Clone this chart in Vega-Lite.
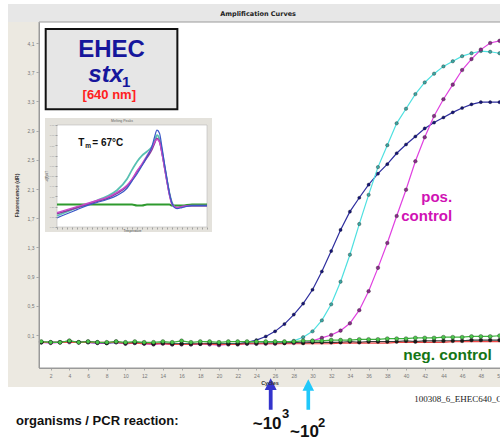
{
  "$schema": "https://vega.github.io/schema/vega-lite/v6.json",
  "width": 461,
  "height": 346,
  "autosize": {"type": "none"},
  "padding": {"left": 39, "top": 22, "right": 0, "bottom": 71},
  "background": "white",
  "config": {
    "view": {"stroke": null},
    "text": {"font": "Liberation Sans"},
    "axis": {"labelFont": "Liberation Sans", "titleFont": "Liberation Sans", "labelOverlap": false}
  },
  "datasets": {
    "amp": [
      {"c": 1, "blue": 0.00, "cyan": 0.00, "mag": 0.00, "green": 0.01, "red": 0.00, "black": 0.00},
      {"c": 2, "blue": 0.00, "cyan": 0.00, "mag": -0.01, "green": 0.00, "red": 0.00, "black": 0.00},
      {"c": 3, "blue": 0.00, "cyan": 0.00, "mag": 0.00, "green": 0.00, "red": 0.00, "black": 0.00},
      {"c": 4, "blue": 0.01, "cyan": 0.01, "mag": 0.00, "green": 0.02, "red": 0.00, "black": 0.02},
      {"c": 5, "blue": 0.00, "cyan": 0.00, "mag": 0.00, "green": 0.00, "red": 0.00, "black": 0.00},
      {"c": 6, "blue": 0.00, "cyan": 0.00, "mag": 0.00, "green": 0.01, "red": 0.00, "black": 0.01},
      {"c": 7, "blue": -0.01, "cyan": 0.00, "mag": -0.01, "green": 0.00, "red": 0.00, "black": 0.00},
      {"c": 8, "blue": -0.01, "cyan": -0.01, "mag": -0.01, "green": 0.00, "red": 0.00, "black": -0.01},
      {"c": 9, "blue": 0.00, "cyan": 0.00, "mag": 0.00, "green": 0.01, "red": 0.00, "black": 0.01},
      {"c": 10, "blue": -0.02, "cyan": -0.01, "mag": -0.02, "green": 0.00, "red": -0.01, "black": -0.01},
      {"c": 11, "blue": -0.01, "cyan": -0.01, "mag": -0.01, "green": 0.01, "red": -0.01, "black": 0.00},
      {"c": 12, "blue": -0.02, "cyan": -0.01, "mag": -0.02, "green": 0.00, "red": -0.02, "black": -0.01},
      {"c": 13, "blue": -0.02, "cyan": -0.02, "mag": -0.03, "green": 0.00, "red": -0.02, "black": -0.02},
      {"c": 14, "blue": -0.01, "cyan": -0.01, "mag": -0.02, "green": 0.01, "red": -0.02, "black": -0.01},
      {"c": 15, "blue": -0.03, "cyan": -0.02, "mag": -0.03, "green": 0.00, "red": -0.03, "black": -0.02},
      {"c": 16, "blue": -0.02, "cyan": -0.02, "mag": -0.03, "green": 0.02, "red": -0.03, "black": -0.02},
      {"c": 17, "blue": -0.03, "cyan": -0.02, "mag": -0.03, "green": 0.00, "red": -0.03, "black": -0.02},
      {"c": 18, "blue": -0.02, "cyan": -0.02, "mag": -0.02, "green": 0.01, "red": -0.02, "black": -0.02},
      {"c": 19, "blue": -0.02, "cyan": -0.02, "mag": -0.03, "green": 0.01, "red": -0.03, "black": -0.01},
      {"c": 20, "blue": -0.03, "cyan": -0.03, "mag": -0.04, "green": 0.00, "red": -0.03, "black": -0.02},
      {"c": 21, "blue": -0.02, "cyan": -0.02, "mag": -0.03, "green": 0.01, "red": -0.03, "black": -0.02},
      {"c": 22, "blue": -0.02, "cyan": -0.02, "mag": -0.03, "green": 0.01, "red": -0.03, "black": -0.02},
      {"c": 23, "blue": 0.00, "cyan": -0.02, "mag": -0.02, "green": 0.01, "red": -0.02, "black": -0.01},
      {"c": 24, "blue": 0.03, "cyan": -0.02, "mag": -0.02, "green": 0.01, "red": -0.02, "black": -0.01},
      {"c": 25, "blue": 0.08, "cyan": -0.01, "mag": -0.02, "green": 0.01, "red": -0.02, "black": -0.01},
      {"c": 26, "blue": 0.15, "cyan": -0.01, "mag": -0.02, "green": 0.01, "red": -0.02, "black": -0.01},
      {"c": 27, "blue": 0.25, "cyan": 0.00, "mag": -0.01, "green": 0.01, "red": -0.02, "black": -0.01},
      {"c": 28, "blue": 0.38, "cyan": 0.02, "mag": -0.01, "green": 0.01, "red": -0.02, "black": 0.00},
      {"c": 29, "blue": 0.53, "cyan": 0.07, "mag": 0.00, "green": 0.02, "red": -0.02, "black": -0.01},
      {"c": 30, "blue": 0.72, "cyan": 0.15, "mag": 0.02, "green": 0.02, "red": -0.02, "black": 0.00},
      {"c": 31, "blue": 0.97, "cyan": 0.30, "mag": 0.06, "green": 0.02, "red": -0.02, "black": 0.00},
      {"c": 32, "blue": 1.25, "cyan": 0.52, "mag": 0.10, "green": 0.03, "red": -0.02, "black": 0.00},
      {"c": 33, "blue": 1.54, "cyan": 0.83, "mag": 0.16, "green": 0.03, "red": -0.01, "black": 0.00},
      {"c": 34, "blue": 1.79, "cyan": 1.20, "mag": 0.26, "green": 0.03, "red": -0.01, "black": 0.01},
      {"c": 35, "blue": 1.98, "cyan": 1.62, "mag": 0.44, "green": 0.04, "red": -0.01, "black": 0.00},
      {"c": 36, "blue": 2.16, "cyan": 2.02, "mag": 0.70, "green": 0.04, "red": -0.01, "black": 0.01},
      {"c": 37, "blue": 2.31, "cyan": 2.40, "mag": 1.02, "green": 0.04, "red": -0.01, "black": 0.01},
      {"c": 38, "blue": 2.44, "cyan": 2.70, "mag": 1.36, "green": 0.05, "red": -0.01, "black": 0.01},
      {"c": 39, "blue": 2.59, "cyan": 3.00, "mag": 1.73, "green": 0.05, "red": 0.00, "black": 0.01},
      {"c": 40, "blue": 2.71, "cyan": 3.20, "mag": 2.09, "green": 0.05, "red": 0.00, "black": 0.02},
      {"c": 41, "blue": 2.82, "cyan": 3.40, "mag": 2.48, "green": 0.06, "red": 0.00, "black": 0.01},
      {"c": 42, "blue": 2.93, "cyan": 3.56, "mag": 2.81, "green": 0.06, "red": 0.00, "black": 0.02},
      {"c": 43, "blue": 3.01, "cyan": 3.68, "mag": 3.10, "green": 0.06, "red": 0.00, "black": 0.02},
      {"c": 44, "blue": 3.08, "cyan": 3.78, "mag": 3.33, "green": 0.07, "red": 0.00, "black": 0.02},
      {"c": 45, "blue": 3.15, "cyan": 3.85, "mag": 3.53, "green": 0.07, "red": 0.01, "black": 0.02},
      {"c": 46, "blue": 3.21, "cyan": 3.92, "mag": 3.73, "green": 0.07, "red": 0.01, "black": 0.02},
      {"c": 47, "blue": 3.26, "cyan": 3.96, "mag": 3.88, "green": 0.08, "red": 0.01, "black": 0.03},
      {"c": 48, "blue": 3.29, "cyan": 3.99, "mag": 4.01, "green": 0.08, "red": 0.01, "black": 0.03},
      {"c": 49, "blue": 3.29, "cyan": 3.98, "mag": 4.10, "green": 0.08, "red": 0.01, "black": 0.03},
      {"c": 50, "blue": 3.29, "cyan": 3.96, "mag": 4.13, "green": 0.09, "red": 0.01, "black": 0.03}
    ],
    "melt": [
      {"t": 47, "teal": 0.11, "purple": 0.13, "royal": 0.09, "orchid": 0.14, "base": 0.22},
      {"t": 49, "teal": 0.15, "purple": 0.16, "royal": 0.13, "orchid": 0.17, "base": 0.22},
      {"t": 51, "teal": 0.19, "purple": 0.19, "royal": 0.17, "orchid": 0.20, "base": 0.22},
      {"t": 53, "teal": 0.22, "purple": 0.22, "royal": 0.21, "orchid": 0.23, "base": 0.22},
      {"t": 55, "teal": 0.26, "purple": 0.25, "royal": 0.24, "orchid": 0.26, "base": 0.22},
      {"t": 57, "teal": 0.30, "purple": 0.28, "royal": 0.27, "orchid": 0.29, "base": 0.22},
      {"t": 59, "teal": 0.36, "purple": 0.33, "royal": 0.31, "orchid": 0.34, "base": 0.22},
      {"t": 61, "teal": 0.47, "purple": 0.40, "royal": 0.38, "orchid": 0.41, "base": 0.22},
      {"t": 62, "teal": 0.56, "purple": 0.46, "royal": 0.45, "orchid": 0.47, "base": 0.22},
      {"t": 63, "teal": 0.64, "purple": 0.54, "royal": 0.52, "orchid": 0.55, "base": 0.21},
      {"t": 64, "teal": 0.70, "purple": 0.61, "royal": 0.60, "orchid": 0.62, "base": 0.21},
      {"t": 65, "teal": 0.74, "purple": 0.68, "royal": 0.69, "orchid": 0.70, "base": 0.22},
      {"t": 66, "teal": 0.79, "purple": 0.76, "royal": 0.79, "orchid": 0.78, "base": 0.22},
      {"t": 66.5, "teal": 0.84, "purple": 0.82, "royal": 0.88, "orchid": 0.83, "base": 0.22},
      {"t": 67, "teal": 0.90, "purple": 0.87, "royal": 0.95, "orchid": 0.86, "base": 0.22},
      {"t": 67.5, "teal": 0.86, "purple": 0.84, "royal": 0.92, "orchid": 0.83, "base": 0.22},
      {"t": 68, "teal": 0.74, "purple": 0.73, "royal": 0.78, "orchid": 0.72, "base": 0.22},
      {"t": 68.5, "teal": 0.60, "purple": 0.59, "royal": 0.62, "orchid": 0.58, "base": 0.22},
      {"t": 69, "teal": 0.46, "purple": 0.45, "royal": 0.47, "orchid": 0.44, "base": 0.22},
      {"t": 69.5, "teal": 0.33, "purple": 0.32, "royal": 0.33, "orchid": 0.31, "base": 0.22},
      {"t": 70, "teal": 0.24, "purple": 0.23, "royal": 0.23, "orchid": 0.22, "base": 0.21},
      {"t": 70.5, "teal": 0.20, "purple": 0.20, "royal": 0.19, "orchid": 0.20, "base": 0.21},
      {"t": 71, "teal": 0.19, "purple": 0.19, "royal": 0.18, "orchid": 0.19, "base": 0.21},
      {"t": 72, "teal": 0.20, "purple": 0.20, "royal": 0.19, "orchid": 0.20, "base": 0.21},
      {"t": 74, "teal": 0.21, "purple": 0.21, "royal": 0.21, "orchid": 0.21, "base": 0.22},
      {"t": 77, "teal": 0.21, "purple": 0.21, "royal": 0.21, "orchid": 0.21, "base": 0.22}
    ]
  },
  "layer": [
    {
      "layer": [
        {
          "data": {"values": [{}]},
          "mark": {"type": "rect", "fill": "#ece9e1"},
          "encoding": {
            "x": {
              "datum": -2.56, "type": "quantitative",
              "scale": {"domain": [0.754, 50.05], "nice": false, "zero": false},
              "axis": {
                "values": [2, 4, 6, 8, 10, 12, 14, 16, 18, 20, 22, 24, 26, 28, 30, 32, 34, 36, 38, 40, 42, 44, 46, 48, 50],
                "tickCount": 60,
                "title": "Cycles", "titleFontSize": 5.5, "titleFontWeight": "bold", "titleColor": "#333333", "titlePadding": 2,
                "labelFontSize": 5, "labelColor": "#777777", "labelPadding": 3, "labelFlush": false, "labelOverlap": false,
                "tickSize": 2, "tickColor": "#a8a8a8", "domainColor": "#9a9a9a", "grid": false, "zindex": 1
              }
            },
            "x2": {"datum": 51},
            "y": {
              "datum": 4.634, "type": "quantitative",
              "scale": {"domain": [-0.352, 4.388], "nice": false, "zero": false},
              "axis": {
                "values": [0.1, 0.5, 0.9, 1.3, 1.7, 2.1, 2.5, 2.9, 3.3, 3.7, 4.1],
                "tickCount": 30,
                "labelExpr": "replace(format(datum.value, '.1f'), '.', ',')",
                "title": "Fluorescence (dR)", "titleFontSize": 5, "titleFontWeight": "bold", "titleColor": "#333333", "titlePadding": 8,
                "labelFontSize": 5, "labelColor": "#777777", "labelPadding": 2, "labelOverlap": false,
                "tickSize": 3, "tickColor": "#a8a8a8", "domainColor": "#9a9a9a", "grid": false, "zindex": 1
              }
            },
            "y2": {"datum": -0.612}
          }
        },
        {
          "data": {"values": [{}]},
          "mark": {"type": "rect", "fill": "#e7e7e7"},
          "encoding": {
            "x": {"datum": -2.56, "type": "quantitative"}, "x2": {"datum": 51},
            "y": {"datum": 4.634, "type": "quantitative"}, "y2": {"datum": 4.388}
          }
        },
        {
          "data": {"values": [{}]},
          "mark": {"type": "text", "text": "Amplification Curves", "font": "DejaVu Sans", "fontWeight": "bold", "fontSize": 6.5, "color": "#222222", "align": "center", "baseline": "middle"},
          "encoding": {"x": {"datum": 24.18, "type": "quantitative"}, "y": {"datum": 4.504, "type": "quantitative"}}
        },
        {
          "data": {"values": [{}]},
          "mark": {"type": "rect", "fill": "white", "stroke": "#9a9a9a", "strokeWidth": 1},
          "encoding": {
            "x": {"datum": 0.754, "type": "quantitative"}, "x2": {"datum": 51},
            "y": {"datum": -0.352, "type": "quantitative"}, "y2": {"datum": 4.388}
          }
        },
        {
          "data": {"name": "amp"},
          "transform": [{"fold": ["blue", "cyan", "mag", "black", "red", "green"], "as": ["series", "value"]}],
          "mark": {"type": "line", "strokeWidth": 1.2},
          "encoding": {
            "x": {"field": "c", "type": "quantitative"},
            "y": {"field": "value", "type": "quantitative"},
            "stroke": {
              "field": "series", "type": "nominal", "legend": null,
              "scale": {"domain": ["blue", "cyan", "mag", "black", "red", "green"], "range": ["#2e2e9e", "#4ee0e0", "#e040e0", "#3a3a3a", "#f04848", "#3cb43c"]}
            }
          }
        },
        {
          "data": {"name": "amp"},
          "transform": [
            {"fold": ["blue", "cyan", "mag", "black", "green"], "as": ["series", "value"]}
          ],
          "mark": {"type": "point", "filled": true, "opacity": 1, "stroke": "#1c1c1c", "strokeWidth": 0.5, "strokeOpacity": 0.7},
          "encoding": {
            "x": {"field": "c", "type": "quantitative"},
            "y": {"field": "value", "type": "quantitative"},
            "fill": {
              "field": "series", "type": "nominal", "legend": null,
              "scale": {"domain": ["blue", "cyan", "mag", "black", "green"], "range": ["#14147a", "#3aa8a4", "#8a2a8a", "#1a1a1a", "#4cc84c"]}
            },
            "size": {
              "field": "series", "type": "nominal", "legend": null,
              "scale": {"domain": ["blue", "cyan", "mag", "black", "green"], "range": [10, 16, 12, 12, 22]}
            }
          }
        },
        {
          "data": {"values": [{}]},
          "mark": {"type": "rect", "fill": "#e6e6e6", "stroke": "#111111", "strokeWidth": 2},
          "encoding": {
            "x": {"datum": 1.47, "type": "quantitative"}, "x2": {"datum": 15.55},
            "y": {"datum": 4.292, "type": "quantitative"}, "y2": {"datum": 3.192}
          }
        },
        {
          "data": {"values": [{}]},
          "mark": {"type": "text", "text": "EHEC", "fontSize": 24, "fontWeight": "bold", "color": "#16169c", "align": "center", "baseline": "alphabetic"},
          "encoding": {"x": {"datum": 8.51, "type": "quantitative"}, "y": {"datum": 3.912, "type": "quantitative"}}
        },
        {
          "data": {"values": [{}]},
          "mark": {"type": "text", "text": "stx", "fontSize": 24, "fontWeight": "bold", "fontStyle": "italic", "color": "#16169c", "align": "left", "baseline": "alphabetic"},
          "encoding": {"x": {"datum": 6.03, "type": "quantitative"}, "y": {"datum": 3.57, "type": "quantitative"}}
        },
        {
          "data": {"values": [{}]},
          "mark": {"type": "text", "text": "1", "fontSize": 15, "fontWeight": "bold", "color": "#16169c", "align": "left", "baseline": "alphabetic"},
          "encoding": {"x": {"datum": 9.63, "type": "quantitative"}, "y": {"datum": 3.5, "type": "quantitative"}}
        },
        {
          "data": {"values": [{}]},
          "mark": {"type": "text", "text": "[640 nm]", "fontSize": 13, "fontWeight": "bold", "color": "#ff2020", "align": "center", "baseline": "alphabetic"},
          "encoding": {"x": {"datum": 8.27, "type": "quantitative"}, "y": {"datum": 3.333, "type": "quantitative"}}
        },
        {
          "data": {"values": [{}]},
          "mark": {"type": "text", "text": "pos.", "fontSize": 15, "fontWeight": "bold", "color": "#d012b4", "align": "right", "baseline": "alphabetic"},
          "encoding": {"x": {"datum": 44.93, "type": "quantitative"}, "y": {"datum": 1.922, "type": "quantitative"}}
        },
        {
          "data": {"values": [{}]},
          "mark": {"type": "text", "text": "control", "fontSize": 15, "fontWeight": "bold", "color": "#d012b4", "align": "right", "baseline": "alphabetic"},
          "encoding": {"x": {"datum": 44.93, "type": "quantitative"}, "y": {"datum": 1.662, "type": "quantitative"}}
        },
        {
          "data": {"values": [{}]},
          "mark": {"type": "text", "text": "neg. control", "fontSize": 15.5, "fontWeight": "bold", "color": "#157515", "align": "center", "baseline": "alphabetic"},
          "encoding": {"x": {"datum": 44.44, "type": "quantitative"}, "y": {"datum": -0.236, "type": "quantitative"}}
        },
        {
          "data": {"values": [{}]},
          "mark": {"type": "text", "text": "100308_6_EHEC640_Cycles", "font": "Liberation Serif", "fontSize": 9, "color": "#222222", "align": "left", "baseline": "alphabetic"},
          "encoding": {"x": {"datum": 40.89, "type": "quantitative"}, "y": {"datum": -0.818, "type": "quantitative"}}
        },
        {
          "data": {"values": [{}]},
          "mark": {"type": "text", "text": "organisms / PCR reaction:", "fontSize": 13, "fontWeight": "bold", "color": "#111111", "align": "left", "baseline": "alphabetic"},
          "encoding": {"x": {"datum": -1.706, "type": "quantitative"}, "y": {"datum": -1.133, "type": "quantitative"}}
        },
        {
          "data": {"values": [{}]},
          "mark": {"type": "point", "shape": "M0,-1L0.38,-0.25L0.12,-0.25L0.12,1L-0.12,1L-0.12,-0.25L-0.38,-0.25Z", "size": 990, "filled": true, "opacity": 1, "color": "#3434cc"},
          "encoding": {"x": {"datum": 25.53, "type": "quantitative"}, "y": {"datum": -0.708, "type": "quantitative"}}
        },
        {
          "data": {"values": [{}]},
          "mark": {"type": "point", "shape": "M0,-1L0.38,-0.25L0.12,-0.25L0.12,1L-0.12,1L-0.12,-0.25L-0.38,-0.25Z", "size": 930, "filled": true, "opacity": 1, "color": "#20c8fa"},
          "encoding": {"x": {"datum": 29.55, "type": "quantitative"}, "y": {"datum": -0.715, "type": "quantitative"}}
        },
        {
          "data": {"values": [{}]},
          "mark": {"type": "text", "text": "~10", "fontSize": 17, "fontWeight": "bold", "color": "#111111", "align": "left", "baseline": "alphabetic"},
          "encoding": {"x": {"datum": 23.61, "type": "quantitative"}, "y": {"datum": -1.192, "type": "quantitative"}}
        },
        {
          "data": {"values": [{}]},
          "mark": {"type": "text", "text": "3", "fontSize": 13, "fontWeight": "bold", "color": "#111111", "align": "left", "baseline": "alphabetic"},
          "encoding": {"x": {"datum": 26.74, "type": "quantitative"}, "y": {"datum": -1.041, "type": "quantitative"}}
        },
        {
          "data": {"values": [{}]},
          "mark": {"type": "text", "text": "~10", "fontSize": 17, "fontWeight": "bold", "color": "#111111", "align": "left", "baseline": "alphabetic"},
          "encoding": {"x": {"datum": 27.6, "type": "quantitative"}, "y": {"datum": -1.3, "type": "quantitative"}}
        },
        {
          "data": {"values": [{}]},
          "mark": {"type": "text", "text": "2", "fontSize": 13, "fontWeight": "bold", "color": "#111111", "align": "left", "baseline": "alphabetic"},
          "encoding": {"x": {"datum": 30.6, "type": "quantitative"}, "y": {"datum": -1.165, "type": "quantitative"}}
        }
      ]
    },
    {
      "layer": [
        {
          "data": {"values": [{}]},
          "mark": {"type": "rect", "fill": "#e4e2dc"},
          "encoding": {
            "x": {
              "datum": 44.6, "type": "quantitative",
              "scale": {"domain": [47, 77], "range": [18, 168], "nice": false, "zero": false},
              "axis": {
                "orient": "bottom", "offset": -141,
                "values": [47, 48, 49, 50, 51, 52, 53, 54, 55, 56, 57, 58, 59, 60, 61, 62, 63, 64, 65, 66, 67, 68, 69, 70, 71, 72, 73, 74, 75, 76, 77],
                "tickCount": 60,
                "labels": false, "domain": false, "tickSize": 2, "tickColor": "#a0a0a0", "grid": false,
                "title": "Temperature", "titleFontSize": 3, "titleColor": "#777777", "titlePadding": 0, "zindex": 1
              }
            },
            "x2": {"datum": 78},
            "y": {
              "datum": 1.069, "type": "quantitative",
              "scale": {"domain": [0, 1], "range": [205, 103], "nice": false, "zero": false},
              "axis": {
                "orient": "left", "offset": -18,
                "values": [0, 0.1, 0.2, 0.3, 0.4, 0.5, 0.6, 0.7, 0.8, 0.9, 1],
                "tickCount": 30,
                "labelFontSize": 2.5, "labelColor": "#999999", "labelPadding": 1, "domain": false,
                "tickSize": 2, "tickColor": "#a0a0a0", "grid": false,
                "title": "-d(F)/dT", "titleFontSize": 3, "titleColor": "#777777", "titlePadding": 1, "zindex": 1
              }
            },
            "y2": {"datum": -0.049}
          }
        },
        {
          "data": {"values": [{}]},
          "mark": {"type": "rect", "fill": "white", "stroke": "#b8b8b8", "strokeWidth": 0.6},
          "encoding": {
            "x": {"datum": 47, "type": "quantitative"}, "x2": {"datum": 77},
            "y": {"datum": 0, "type": "quantitative"}, "y2": {"datum": 1}
          }
        },
        {
          "data": {"name": "melt"},
          "transform": [{"fold": ["base", "teal", "purple", "orchid", "royal"], "as": ["curve", "dfdt"]}],
          "mark": {"type": "line", "interpolate": "monotone"},
          "encoding": {
            "x": {"field": "t", "type": "quantitative"},
            "y": {"field": "dfdt", "type": "quantitative"},
            "stroke": {
              "field": "curve", "type": "nominal", "legend": null,
              "scale": {"domain": ["base", "teal", "purple", "orchid", "royal"], "range": ["#2e9a2e", "#58c0b2", "#8a3c9c", "#c84ac8", "#3c58c8"]}
            },
            "strokeWidth": {
              "field": "curve", "type": "nominal", "legend": null,
              "scale": {"domain": ["base", "teal", "purple", "orchid", "royal"], "range": [2, 1.2, 1.2, 1.2, 1.2]}
            }
          }
        },
        {
          "data": {"values": [{}]},
          "mark": {"type": "text", "text": "Melting Peaks", "fontSize": 3.5, "color": "#666666", "align": "center", "baseline": "middle"},
          "encoding": {"x": {"datum": 60, "type": "quantitative"}, "y": {"datum": 1.035, "type": "quantitative"}}
        },
        {
          "data": {"values": [{}]},
          "mark": {"type": "text", "text": "T", "fontSize": 10, "fontWeight": "bold", "color": "#111111", "align": "left", "baseline": "alphabetic"},
          "encoding": {"x": {"datum": 51.26, "type": "quantitative"}, "y": {"datum": 0.799, "type": "quantitative"}}
        },
        {
          "data": {"values": [{}]},
          "mark": {"type": "text", "text": "m", "fontSize": 6.5, "fontWeight": "bold", "color": "#111111", "align": "left", "baseline": "alphabetic"},
          "encoding": {"x": {"datum": 52.66, "type": "quantitative"}, "y": {"datum": 0.775, "type": "quantitative"}}
        },
        {
          "data": {"values": [{}]},
          "mark": {"type": "text", "text": "= 67°C", "fontSize": 10, "fontWeight": "bold", "color": "#111111", "align": "left", "baseline": "alphabetic"},
          "encoding": {"x": {"datum": 54.06, "type": "quantitative"}, "y": {"datum": 0.799, "type": "quantitative"}}
        }
      ]
    }
  ],
  "resolve": {
    "scale": {"x": "independent", "y": "independent", "stroke": "independent", "strokeWidth": "independent", "fill": "independent", "size": "independent"},
    "axis": {"x": "independent", "y": "independent"}
  }
}
